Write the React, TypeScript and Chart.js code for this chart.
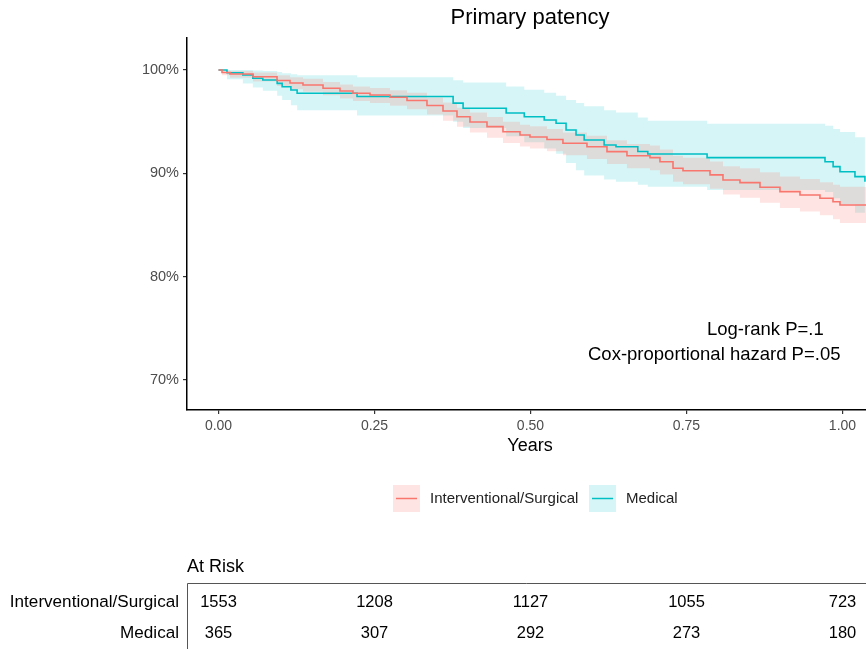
import React, { useEffect, useRef } from "react";
import { Chart, registerables } from "chart.js";

Chart.register(...registerables);

const FONT = "'Liberation Sans', Arial, Helvetica, sans-serif";

const groups = ["Interventional/Surgical", "Medical"];
const lineColors = ["#F8766D", "#00BFC4"];
const bandColors = ["rgba(248,118,109,0.2)", "rgba(0,191,196,0.16)"];

// Interventional/Surgical KM curve (time in years, survival %)
const surgTimes = [0, 0.0056, 0.0184, 0.0553, 0.0938, 0.1146, 0.1354, 0.1675, 0.1947, 0.2155, 0.2428, 0.2748, 0.3021, 0.3341, 0.3598, 0.3822, 0.403, 0.4303, 0.4559, 0.4832, 0.4992, 0.5264, 0.552, 0.5905, 0.6226, 0.6546, 0.6915, 0.7075, 0.7284, 0.7444, 0.7877, 0.8085, 0.8357, 0.8678, 0.8998, 0.9319, 0.9639, 0.9848, 0.996, 1.04];
const surgSurv = [100, 99.76, 99.61, 99.35, 98.98, 98.74, 98.55, 98.23, 97.97, 97.75, 97.58, 97.36, 97.05, 96.57, 96.03, 95.48, 94.97, 94.52, 94.03, 93.71, 93.52, 93.28, 92.91, 92.58, 92.1, 91.71, 91.52, 91.13, 90.49, 90.26, 89.85, 89.36, 89.1, 88.66, 88.23, 87.91, 87.59, 87.26, 86.94, 86.94];
const surgUpper = [100, 99.95, 99.9, 99.75, 99.5, 99.3, 99.15, 98.85, 98.6, 98.4, 98.25, 98.05, 97.8, 97.35, 96.85, 96.35, 95.9, 95.45, 95.0, 94.7, 94.55, 94.3, 93.95, 93.65, 93.2, 92.85, 92.7, 92.3, 91.7, 91.5, 91.15, 90.7, 90.5, 90.1, 89.7, 89.45, 89.15, 88.9, 88.7, 88.7];
const surgLower = [100, 99.5, 99.25, 98.9, 98.45, 98.15, 97.9, 97.55, 97.25, 97.0, 96.8, 96.55, 96.2, 95.7, 95.1, 94.5, 93.95, 93.45, 92.95, 92.6, 92.4, 92.15, 91.75, 91.4, 90.9, 90.5, 90.3, 89.9, 89.2, 88.95, 88.5, 87.95, 87.65, 87.15, 86.65, 86.3, 85.95, 85.55, 85.2, 85.2];

// Medical KM curve
const medTimes = [0, 0.0136, 0.039, 0.055, 0.071, 0.094, 0.102, 0.116, 0.126, 0.222, 0.376, 0.392, 0.461, 0.49, 0.522, 0.541, 0.557, 0.573, 0.586, 0.618, 0.637, 0.672, 0.688, 0.783, 0.972, 0.985, 0.996, 1.02, 1.036];
const medSurv = [100, 99.74, 99.52, 99.2, 99.03, 98.71, 98.38, 98.07, 97.75, 97.44, 96.8, 96.3, 95.84, 95.48, 95.16, 94.85, 94.2, 93.71, 93.23, 92.75, 92.58, 92.12, 91.88, 91.52, 91.13, 90.65, 90.16, 89.68, 89.2];
const medUpper = [100, 100, 100, 99.95, 99.9, 99.8, 99.7, 99.6, 99.5, 99.3, 99.0, 98.8, 98.4, 98.1, 97.8, 97.5, 97.1, 96.8, 96.5, 96.1, 95.9, 95.4, 95.1, 94.8, 94.6, 94.3, 94.0, 93.5, 93.0];
const medLower = [100, 99.1, 98.7, 98.3, 98.0, 97.5, 97.1, 96.6, 96.1, 95.6, 95.0, 94.4, 93.6, 93.0, 92.4, 91.9, 91.0, 90.3, 89.8, 89.4, 89.2, 88.9, 88.7, 88.4, 88.2, 87.6, 87.0, 86.2, 85.5];

const xTicks = [0, 0.25, 0.5, 0.75, 1.0];
const yTicks = [70, 80, 90, 100];

const riskTimes = [0, 0.25, 0.5, 0.75, 1.0];
const riskSurg = [1553, 1208, 1127, 1055, 723];
const riskMed = [365, 307, 292, 273, 180];

const pts = (xs: number[], ys: number[]) => xs.map((x, i) => ({ x, y: ys[i] }));

const overlayPlugin = {
  id: "overlay",
  afterDraw(chart: any) {
    const ctx = chart.ctx as CanvasRenderingContext2D;
    const xs = chart.scales.x;
    ctx.save();
    // title
    ctx.fillStyle = "#000";
    ctx.textBaseline = "middle";
    ctx.textAlign = "center";
    ctx.font = `22px ${FONT}`;
    ctx.fillText("Primary patency", 530, 18);
    // axis title
    ctx.font = `18px ${FONT}`;
    ctx.fillText("Years", 530, 446);
    // annotation
    ctx.textAlign = "left";
    ctx.font = `18.5px ${FONT}`;
    ctx.fillText("Log-rank P=.1", 707, 330);
    ctx.fillText("Cox-proportional hazard P=.05", 588, 355);

    // legend
    const keys = [
      { x: 393, tx: 430 },
      { x: 589, tx: 626 },
    ];
    keys.forEach((k, i) => {
      ctx.fillStyle = bandColors[i];
      ctx.fillRect(k.x, 485, 27, 27);
      ctx.strokeStyle = lineColors[i];
      ctx.lineWidth = 1.5;
      ctx.beginPath();
      ctx.moveTo(k.x + 3, 498.5);
      ctx.lineTo(k.x + 24, 498.5);
      ctx.stroke();
      ctx.fillStyle = "#222";
      ctx.font = `15px ${FONT}`;
      ctx.textAlign = "left";
      ctx.fillText(groups[i], k.tx, 498.5);
    });

    // risk table
    ctx.fillStyle = "#000";
    ctx.font = `18px ${FONT}`;
    ctx.textAlign = "left";
    ctx.fillText("At Risk", 187, 567);
    ctx.strokeStyle = "#555";
    ctx.lineWidth = 1;
    ctx.beginPath();
    ctx.moveTo(187.5, 649);
    ctx.lineTo(187.5, 583.5);
    ctx.lineTo(866, 583.5);
    ctx.stroke();
    ctx.font = `17.1px ${FONT}`;
    ctx.textAlign = "right";
    ctx.fillText(groups[0], 179, 602);
    ctx.fillText(groups[1], 179, 633);
    ctx.font = `16.5px ${FONT}`;
    ctx.textAlign = "center";
    riskTimes.forEach((t, i) => {
      const px = xs.getPixelForValue(t);
      ctx.fillText(String(riskSurg[i]), px, 602);
      ctx.fillText(String(riskMed[i]), px, 633);
    });
    ctx.restore();
  },
};

export default function App() {
  const ref = useRef<HTMLCanvasElement>(null);
  useEffect(() => {
    if (!ref.current) return;
    const chart = new Chart(ref.current, {
      type: "line",
      data: {
        datasets: [
          {
            label: groups[0],
            data: pts(surgTimes, surgSurv),
            borderColor: lineColors[0],
            borderWidth: 1.6,
            pointRadius: 0,
            stepped: true,
            fill: false,
          },
          {
            label: groups[1],
            data: pts(medTimes, medSurv),
            borderColor: lineColors[1],
            borderWidth: 1.6,
            pointRadius: 0,
            stepped: true,
            fill: false,
          },
          {
            label: "surgUpper",
            data: pts(surgTimes, surgUpper),
            borderWidth: 0,
            borderColor: "rgba(0,0,0,0)",
            backgroundColor: bandColors[0],
            pointRadius: 0,
            stepped: true,
            fill: "+1",
          },
          {
            label: "surgLower",
            data: pts(surgTimes, surgLower),
            borderWidth: 0,
            borderColor: "rgba(0,0,0,0)",
            pointRadius: 0,
            stepped: true,
            fill: false,
          },
          {
            label: "medUpper",
            data: pts(medTimes, medUpper),
            borderWidth: 0,
            borderColor: "rgba(0,0,0,0)",
            backgroundColor: bandColors[1],
            pointRadius: 0,
            stepped: true,
            fill: "+1",
          },
          {
            label: "medLower",
            data: pts(medTimes, medLower),
            borderWidth: 0,
            borderColor: "rgba(0,0,0,0)",
            pointRadius: 0,
            stepped: true,
            fill: false,
          },
        ],
      },
      options: {
        responsive: false,
        animation: false,
        devicePixelRatio: 1,
        layout: { padding: { top: 38, right: 0, left: 0, bottom: 0 } },
        plugins: {
          legend: { display: false },
          tooltip: { enabled: false },
          title: { display: false },
        },
        scales: {
          x: {
            type: "linear",
            min: -0.0505,
            max: 1.0377,
            afterBuildTicks: (s: any) => {
              s.ticks = xTicks.map((v) => ({ value: v }));
            },
            afterFit: (s: any) => {
              s.height = 239;
            },
            ticks: {
              callback: (v: any) => Number(v).toFixed(2),
              color: "#4d4d4d",
              font: { family: FONT, size: 14 },
              padding: 4,
              maxRotation: 0,
              autoSkip: false,
            },
            grid: {
              display: true,
              drawOnChartArea: false,
              drawTicks: true,
              tickLength: 4,
              color: "#333",
              lineWidth: 1.2,
            },
            border: { display: true, color: "#000", width: 1.5 },
          },
          y: {
            type: "linear",
            min: 67.1,
            max: 103.1,
            afterBuildTicks: (s: any) => {
              s.ticks = yTicks.map((v) => ({ value: v }));
            },
            afterFit: (s: any) => {
              s.width = 187;
            },
            ticks: {
              callback: (v: any) => `${v}%`,
              color: "#4d4d4d",
              font: { family: FONT, size: 14.5 },
              padding: 4,
              autoSkip: false,
            },
            grid: {
              display: true,
              drawOnChartArea: false,
              drawTicks: true,
              tickLength: 4,
              color: "#333",
              lineWidth: 1.2,
            },
            border: { display: true, color: "#000", width: 1.5 },
          },
        },
      },
      plugins: [overlayPlugin],
    });
    return () => chart.destroy();
  }, []);

  return (
    <div style={{ position: "absolute", left: 0, top: 0, width: 866, height: 649, overflow: "hidden", background: "#fff" }}>
      <canvas ref={ref} width={866} height={649} style={{ display: "block" }} />
    </div>
  );
}
